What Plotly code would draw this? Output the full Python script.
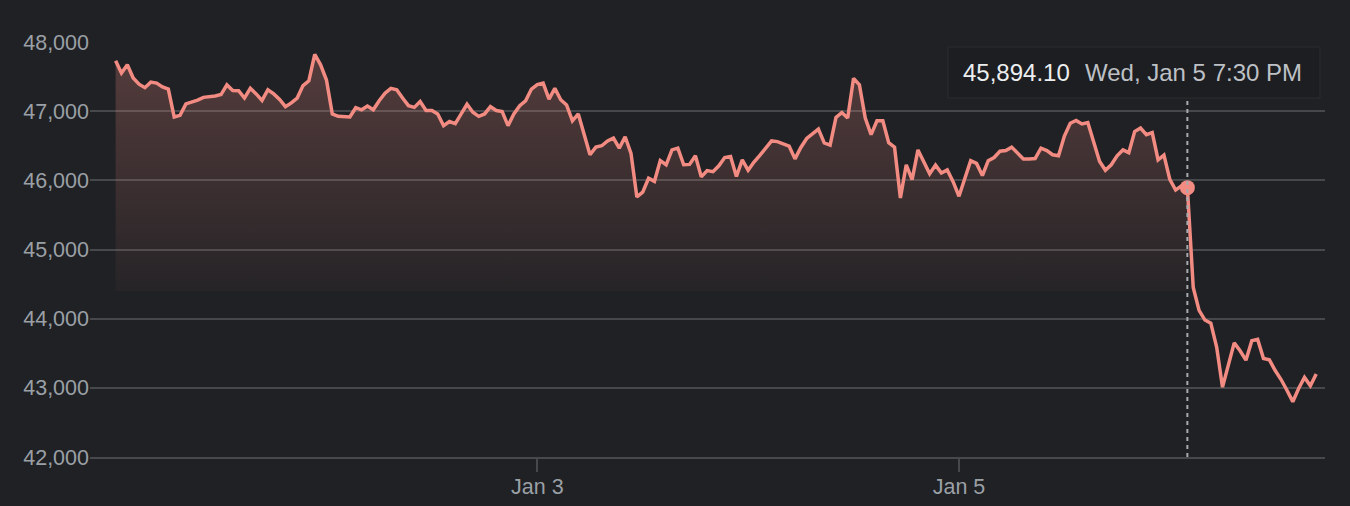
import pandas as pd
import plotly.graph_objects as go

# ---- data (40-minute samples starting Jan 1 00:00 UTC) ----
start_time = "2022-01-01 00:00"
step = "40min"
prices = [
    47730, 47550, 47670, 47480, 47390, 47340, 47420, 47405, 47350, 47320,
    46915, 46940, 47105, 47130, 47160, 47200, 47205, 47220, 47240, 47380,
    47300, 47295, 47190, 47330, 47250, 47155, 47310, 47250, 47170, 47065,
    47120, 47190, 47370, 47440, 47820, 47670, 47450, 46960, 46925, 46920,
    46915, 47050, 47020, 47075, 47020, 47150, 47260, 47330, 47310, 47190,
    47080, 47055, 47140, 47010, 47010, 46960, 46790, 46850, 46820, 46960,
    47100, 46985, 46925, 46960, 47065, 47010, 46995, 46790, 46960, 47080,
    47150, 47320, 47385, 47405, 47175, 47330, 47165, 47090, 46860, 46960,
    46660, 46370, 46480, 46500, 46570, 46610, 46465, 46630, 46390, 45760,
    45830, 46030, 45985, 46285, 46225, 46440, 46465, 46225, 46230, 46355,
    46050, 46140, 46125, 46210, 46330, 46345, 46055, 46295, 46145, 46265,
    46360, 46460, 46570, 46560, 46530, 46495, 46310, 46475, 46605, 46670,
    46740, 46540, 46510, 46910, 46980, 46900, 47475, 47380, 46900, 46660,
    46860, 46860, 46545, 46480, 45745, 46225, 46010, 46440, 46275, 46095,
    46220, 46105, 46150, 45980, 45770, 46030, 46285, 46245, 46070, 46285,
    46330, 46420, 46430, 46480, 46390, 46310, 46310, 46315, 46465, 46430,
    46370, 46355, 46640, 46825, 46865, 46815, 46835, 46545, 46275, 46145,
    46225, 46355, 46440, 46400, 46705, 46755, 46660, 46690, 46295, 46365,
    46015, 45860, 45920, 45894.10, 44450, 44120, 43980, 43935, 43590, 43010,
    43350, 43650, 43535, 43400, 43680, 43700, 43425, 43405, 43250, 43120,
    42965, 42800, 42990, 43150, 43030, 43200,
]
hover_index = 183
hover_label = "Wed, Jan 5 7:30 PM"
y_ticks = [42000, 43000, 44000, 45000, 46000, 47000, 48000]
x_tick_dates = ["2022-01-03", "2022-01-05"]
x_tick_text = ["Jan 3", "Jan 5"]

times = pd.date_range(start=start_time, periods=len(prices), freq=step)

# ---- style ----
BG = "#202124"
LINE = "#f28b82"
GRID = "#46484b"
FONT = "Liberation Sans, Arial, sans-serif"
TICK_FONT = dict(family=FONT, size=21.5, color="#9aa0a6")
FILL_BASE = 44400

W, H = 1350, 506
ML, MR, MT, MB = 90, 25, 42, 49
PW, PH = W - ML - MR, H - MT - MB


def px_x(p):
    return (p - ML) / PW


def px_y(p):
    return (H - MB - p) / PH


fig = go.Figure()

hx = times[: hover_index + 1]
hy = prices[: hover_index + 1]

# baseline for gradient fill (only up to hover point)
fig.add_trace(go.Scatter(x=hx, y=[FILL_BASE] * len(hx), mode="lines",
                         line=dict(width=0), hoverinfo="skip", showlegend=False))
fig.add_trace(go.Scatter(
    x=hx, y=hy, mode="lines", line=dict(width=0), fill="tonexty",
    fillgradient=dict(type="vertical", start=FILL_BASE, stop=47800,
                      colorscale=[[0, "rgba(242,139,130,0.03)"],
                                  [1, "rgba(242,139,130,0.25)"]]),
    hoverinfo="skip", showlegend=False))

# price line
fig.add_trace(go.Scatter(x=times, y=prices, mode="lines",
                         line=dict(color=LINE, width=3.5), showlegend=False))

# hover crosshair
fig.add_shape(type="line", xref="x", yref="paper",
              x0=times[hover_index], x1=times[hover_index],
              y0=0, y1=px_y(100),
              line=dict(color="#a8acb1", width=2, dash="4px,4px"), layer="above")

# hover dot
fig.add_trace(go.Scatter(x=[times[hover_index]], y=[prices[hover_index]], mode="markers",
                         marker=dict(color=LINE, size=15), showlegend=False))

# tooltip box
fig.add_shape(type="rect", xref="paper", yref="paper",
              x0=px_x(948), x1=px_x(1320), y0=px_y(98), y1=px_y(47),
              fillcolor="#1d1e21", line=dict(color="#2b2c2f", width=1), layer="above")
fig.add_annotation(xref="paper", yref="paper", x=px_x(961), y=px_y(73),
                   xanchor="left", yanchor="middle", showarrow=False,
                   text=f"{prices[hover_index]:,.2f}",
                   font=dict(family=FONT, size=24, color="#eceef0"))
fig.add_annotation(xref="paper", yref="paper", x=px_x(1083), y=px_y(73),
                   xanchor="left", yanchor="middle", showarrow=False,
                   text=hover_label,
                   font=dict(family=FONT, size=24, color="#bdc1c6"))

fig.update_layout(
    width=W, height=H,
    margin=dict(l=ML, r=MR, t=MT, b=MB, pad=0, autoexpand=False),
    paper_bgcolor=BG, plot_bgcolor=BG,
    showlegend=False,
    xaxis=dict(
        type="date", automargin=False,
        range=["2021-12-31 21:05", "2022-01-06 17:40"],
        tickvals=x_tick_dates, ticktext=x_tick_text,
        showgrid=False, zeroline=False,
        showline=True, linecolor=GRID, linewidth=1.5,
        ticks="outside", ticklen=13, tickwidth=1.5, tickcolor=GRID,
        tickfont=TICK_FONT, ticklabelstandoff=-4,
    ),
    yaxis=dict(
        automargin=False,
        range=[42000, 48000],
        tickvals=y_ticks, tickformat=",d",
        showgrid=True, gridcolor=GRID, gridwidth=1.5,
        zeroline=False, showline=False,
        ticks="", tickfont=TICK_FONT, ticklabelstandoff=0,
    ),
)

fig.write_html(
    "out.html",
    config={"displayModeBar": False},
    post_script="document.body.style.margin='0px';"
                "document.body.style.backgroundColor='#202124';",
)
